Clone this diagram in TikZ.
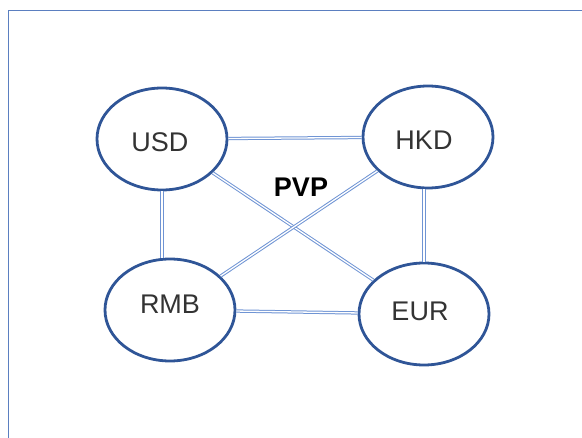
\documentclass[tikz,border=0pt]{standalone}
\usepackage{fontspec}
\setmainfont{Liberation Sans}
\usetikzlibrary{shapes.geometric}
\definecolor{ringblue}{HTML}{2F5597}
\definecolor{linkblue}{HTML}{6F94D4}
\definecolor{framblue}{HTML}{5B7FC0}
\definecolor{labelgray}{HTML}{333333}
\tikzset{
  currency/.style={ellipse, draw=ringblue, line width=2.8pt, minimum width=130pt,
    minimum height=102pt, inner sep=0pt},
  curtext/.style={text=labelgray, font=\fontsize{27}{30}\selectfont, inner sep=0pt},
  link/.style={draw=linkblue, line width=1pt, double=white, double distance=1.3pt},
}
\begin{document}
\begin{tikzpicture}[x=1pt,y=-1pt]
  \useasboundingbox (0,0) rectangle (582,438);
  % outer frame (only its top and left edges fall inside the page)
  \draw[framblue, line width=1pt] (8,438) -- (8,11) -- (582,11);

  \node[currency] (usd) at (162,139) {};
  \node[currency] (hkd) at (428,137) {};
  \node[currency] (rmb) at (170,310) {};
  \node[currency] (eur) at (424,314) {};

  \node[curtext] (usdt) at (160,142) {USD};
  \node[curtext] (hkdt) at (424,140) {HKD};
  \node[curtext] (rmbt) at (170,304) {RMB};
  \node[curtext] (eurt) at (420,311) {EUR};

  \node[font=\bfseries\fontsize{27}{30}\selectfont] (pvp) at (301,187) {PVP};

  \draw[link] (usd) -- (hkd);
  \draw[link] (usd.south) -- (rmb.north -| usd.south);
  \draw[link] (hkd.south -| eur.north) -- (eur.north);
  \draw[link] (rmb) -- (eur);
  \draw[link] (usd) -- (eur);
  \draw[link] (hkd) -- (rmb);
\end{tikzpicture}
\end{document}
